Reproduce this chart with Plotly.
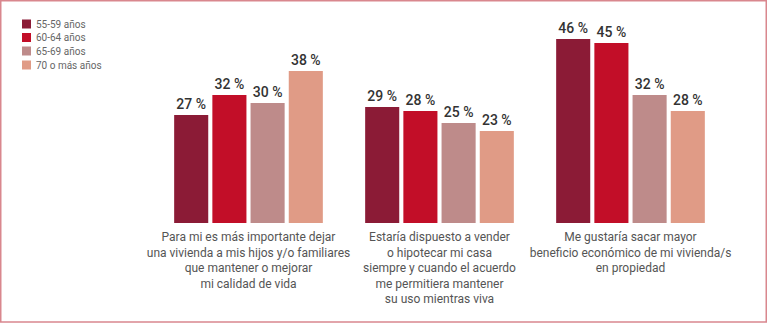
import plotly.graph_objects as go

categories = [
    "Para mi es más importante dejar<br>una vivienda a mis hijos y/o familiares<br>que mantener o mejorar<br>mi calidad de vida",
    "Estaría dispuesto a vender<br>o hipotecar mi casa<br>siempre y cuando el acuerdo<br>me permitiera mantener<br>su uso mientras viva",
    "Me gustaría sacar mayor<br>beneficio económico de mi vivienda/s<br>en propiedad",
]
series_names = ["55-59 años", "60-64 años", "65-69 años", "70 o más años"]
v_55_59 = [27, 29, 46]
v_60_64 = [32, 28, 45]
v_65_69 = [30, 25, 32]
v_70_mas = [38, 23, 28]
series_values = [v_55_59, v_60_64, v_65_69, v_70_mas]
colors = ["#8B1B36", "#C20E28", "#BE8B8A", "#E09B86"]

W, H = 768, 323
ML, MR, MT, MB = 153, 42, 23, 100
PW, PH = W - ML - MR, H - MT - MB


def px_x(p):
    return (p - ML) / PW


def px_y(p):
    return (H - MB - p) / PH


fig = go.Figure()
for name, vals, col in zip(series_names, series_values, colors):
    fig.add_trace(go.Bar(
        x=categories, y=vals, name=name, marker=dict(color=col, line=dict(width=0)),
        text=[f"{v} %" for v in vals], textposition="outside",
        textfont=dict(family="Roboto", size=14, color="#333333", weight=500),
        cliponaxis=False, showlegend=False,
    ))

shapes = []
annotations = []
legend_y = [24, 37.5, 51, 65]
for name, col, cy in zip(series_names, colors, legend_y):
    shapes.append(dict(type="rect", xref="paper", yref="paper",
                       x0=px_x(22), x1=px_x(31), y0=px_y(cy + 4.5), y1=px_y(cy - 4.5),
                       fillcolor=col, line=dict(width=0)))
    annotations.append(dict(xref="paper", yref="paper", x=px_x(34), y=px_y(cy),
                            xanchor="left", yanchor="middle", text=name, showarrow=False,
                            font=dict(family="Roboto", size=10, color="#666666")))

shapes.append(dict(type="rect", xref="paper", yref="paper",
                   x0=px_x(0.75), x1=px_x(766.25), y0=px_y(322), y1=px_y(0.75),
                   line=dict(color="#D9878E", width=1.5), fillcolor="rgba(0,0,0,0)"))

fig.update_layout(
    width=W, height=H,
    margin=dict(l=ML, r=MR, t=MT, b=MB, pad=0),
    barmode="group", bargap=0.2, bargroupgap=0.108,
    plot_bgcolor="white", paper_bgcolor="white",
    shapes=shapes, annotations=annotations,
    xaxis=dict(showline=False, showgrid=False, ticks="", zeroline=False,
               tickfont=dict(family="Roboto", size=12, color="#555555"),
               ticklabelstandoff=5),
    yaxis=dict(range=[0, 50], visible=False, showgrid=False, zeroline=False),
    font=dict(family="Roboto"),
)

fig.write_html("out.html")
